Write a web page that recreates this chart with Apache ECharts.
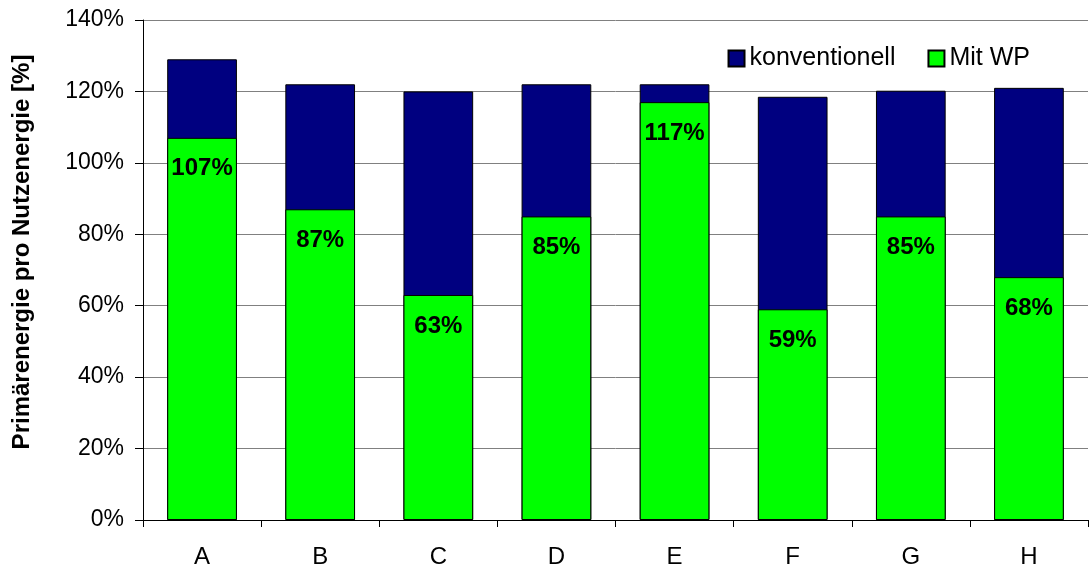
<!DOCTYPE html>
<html>
<head>
<meta charset="utf-8">
<script src="https://cdn.jsdelivr.net/npm/echarts@6/dist/echarts.min.js"></script>
<style>
  html, body { margin: 0; padding: 0; background: #fff; }
  #chart { width: 1089px; height: 569px; }
</style>
</head>
<body>
<div id="chart"></div>
<script>
// Kategorien
const categories = ["A", "B", "C", "D", "E", "F", "G", "H"];
// konventionell (Gesamthöhe)
const konventionell = [129, 122, 120, 122, 122, 118.5, 120.2, 121];
// Mit WP
const mitWP = [107, 87, 63, 85, 117, 59, 85, 68];
const yTicks = [0, 20, 40, 60, 80, 100, 120, 140];

const chart = echarts.init(document.getElementById("chart"));
const font = "Liberation Sans, Arial, sans-serif";

const option = {
    animation: false,
    textStyle: { fontFamily: font },
    grid: {
        left: 143,
        right: 1,
        top: 20,
        bottom: 48,
    },
    legend: {
        top: 41,
        right: 54,
        icon: "rect",
        itemWidth: 16,
        itemHeight: 16,
        itemGap: 32,
        textStyle: { fontSize: 25, color: "#000", fontFamily: font },
        data: ["konventionell", "Mit WP"],
    },
    xAxis: {
        type: "category",
        data: categories,
        axisLine: { lineStyle: { color: "#000", width: 1 } },
        axisTick: { show: true, length: 7, lineStyle: { color: "#000" } },
        axisLabel: { fontSize: 24, color: "#000", margin: 25, fontFamily: font },
    },
    yAxis: {
        type: "value",
        min: yTicks[0],
        max: yTicks[yTicks.length - 1],
        interval: 20,
        name: "Primärenergie pro Nutzenergie [%]",
        nameLocation: "middle",
        nameGap: 109,
        nameTextStyle: {
            fontSize: 24,
            fontWeight: "bold",
            color: "#000",
            fontFamily: font,
            padding: [0, 0, 0, 36], // Titel etwas nach oben
        },
        axisLine: { show: true, lineStyle: { color: "#000" } },
        axisTick: { show: true, length: 8, lineStyle: { color: "#000" } },
        axisLabel: {
            fontSize: 23,
            color: "#000",
            margin: 19,
            fontFamily: font,
            formatter: (v) => v + "%",
        },
        splitLine: { lineStyle: { color: "#808080", width: 1 } },
    },
    series: [
        {
            name: "konventionell",
            type: "bar",
            data: konventionell,
            barWidth: "59%",
            barGap: "-100%",
            itemStyle: { color: "#000080", borderColor: "#000", borderWidth: 1 },
            z: 2,
        },
        {
            name: "Mit WP",
            type: "bar",
            data: mitWP,
            barWidth: "59%",
            itemStyle: { color: "#00ff00", borderColor: "#000", borderWidth: 1 },
            label: {
                show: true,
                position: "insideTop",
                distance: 19,
                fontSize: 24,
                fontWeight: "bold",
                color: "#000",
                fontFamily: font,
                formatter: (p) => Math.round(p.value) + "%",
            },
            z: 3,
        },
    ],
};
chart.setOption(option);
</script>
</body>
</html>
